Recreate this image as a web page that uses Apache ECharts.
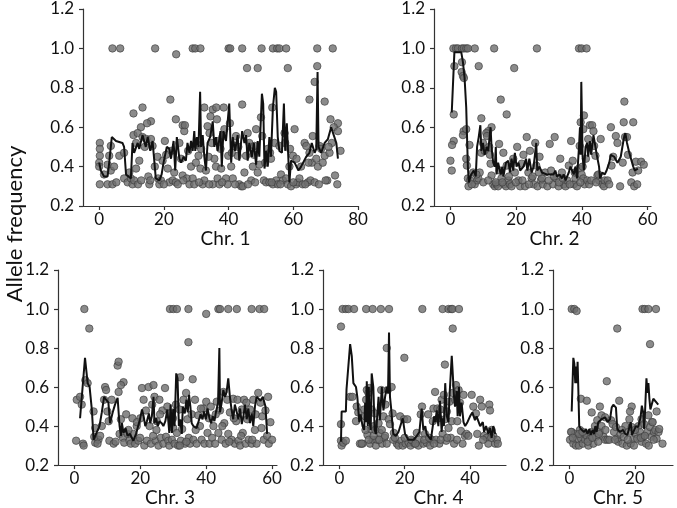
<!DOCTYPE html>
<html><head><meta charset="utf-8">
<script src="https://cdn.jsdelivr.net/npm/echarts@6/dist/echarts.min.js"></script>
<style>html,body{margin:0;padding:0;background:#fff}#c{width:677px;height:508px}</style>
</head><body><div id="c"></div>
<script>
// ---------- DATA ----------
const chrNames = ['Chr. 1','Chr. 2','Chr. 3','Chr. 4','Chr. 5'];
const xMaxes = [80, 61, 61.5, 51, 31.6];
const xTicks = [[0,20,40,60,80],[0,20,40,60],[0,20,40,60],[0,20,40],[0,20]];
const yTicks = [0.2,0.4,0.6,0.8,1.0,1.2];
const yLabel = 'Allele frequency';

const chr1Points = [[4.1,1],[6.5,1],[17.3,1],[28.9,1],[29.7,1],[31.3,1],[40.0,1],[40.5,1],[44.2,1],[50.2,1],[53.7,1],[55.0,1],[55.7,1],[57.8,1],[67.4,1],[72.2,1],
[23.8,0.97],[45.7,0.9],[49.0,0.9],[58.3,0.9],[67.4,0.91],[66.6,0.83],[22.0,0.74],[65.0,0.74],[69.7,0.73],[44.2,0.715],[13.4,0.70],[32.5,0.70],[35.1,0.69],[36.2,0.70],[38.5,0.70],[53.5,0.70],[10.6,0.67],[23.7,0.64],[71.5,0.64],[16.0,0.63],[14.8,0.62],[73.8,0.62],[12.9,0.60],[25.8,0.61],
[0.2,0.52],[0.2,0.49],[0.2,0.455],[0,0.42],[0,0.40],[0.2,0.31],[1.5,0.36],[2.6,0.31],[3.6,0.38],[4.1,0.31],[2.6,0.41],[3.1,0.455],[3.6,0.505],[4.6,0.40],[6.2,0.455],[7.7,0.47],
[7.7,0.34],[8.8,0.32],[9.3,0.37],[9.8,0.34],[10.3,0.31],[10.8,0.33],[11.4,0.39],[10.6,0.56],[11.4,0.52],[12.4,0.43],[11.9,0.57],
[13.4,0.55],[14.1,0.50],[14.6,0.54],[15.2,0.35],[15.5,0.31],[15.8,0.33],[16.5,0.505],[16.0,0.54],[17.2,0.40],[18.2,0.34],[18.6,0.31],[19.1,0.33],[19.6,0.43],[20.3,0.53],[20.7,0.46],[21.2,0.39],[21.7,0.32],[22.7,0.33],[23.2,0.37],[23.7,0.32],[24.3,0.31],[24.8,0.52],[25.3,0.44],[25.8,0.355],[26.3,0.58],[26.5,0.61],[27.1,0.34],[27.9,0.31],[28.4,0.40],[28.9,0.34],[29.4,0.31],[29.9,0.42],[30.4,0.51],[30.7,0.455],[31.3,0.39],[31.5,0.49],
[32.0,0.31],[32.5,0.33],[33.0,0.38],[33.5,0.605],[34.1,0.57],[34.4,0.655],[34.8,0.52],[35.1,0.31],[35.6,0.44],[36.1,0.40],[36.4,0.64],[36.6,0.34],[37.2,0.31],[37.5,0.49],[37.7,0.39],[38.2,0.555],[38.7,0.59],[39.2,0.34],[39.7,0.31],[39.9,0.455],[40.4,0.62],[40.8,0.40],[41.3,0.34],[41.8,0.505],[42.3,0.555],[42.8,0.455],[43.3,0.31],[43.9,0.30],[44.4,0.30],
[44.9,0.37],[45.4,0.455],[45.9,0.57],[46.4,0.52],[47.0,0.33],[47.5,0.40],[48.0,0.505],[48.5,0.59],[49.0,0.37],[49.5,0.41],[50.0,0.65],[50.4,0.555],[50.9,0.33],[51.3,0.42],[51.6,0.32],[52.1,0.49],[52.6,0.32],[53.1,0.44],[53.7,0.31],[54.2,0.52],[54.7,0.33],[55.2,0.31],[55.7,0.505],[56.2,0.36],[56.8,0.33],[57.3,0.57],[57.5,0.52],[57.8,0.34],[58.3,0.31],[58.8,0.40],[59.3,0.30],[59.9,0.455],[60.4,0.59],[60.9,0.31],[61.4,0.32],[61.9,0.34],[62.4,0.40],[62.9,0.31],
[63.5,0.52],[64.0,0.505],[64.5,0.32],[65.0,0.47],[65.3,0.33],[65.7,0.42],[66.0,0.555],[66.6,0.32],[67.1,0.44],[67.6,0.40],[68.1,0.505],[68.6,0.49],[69.1,0.42],[69.7,0.455],[70.5,0.33],[71.2,0.47],[71.9,0.52],[72.5,0.60],[72.9,0.355],[73.6,0.31],[73.8,0.58],[74.6,0.48],
[5.3,0.32],[12.0,0.31],[13.0,0.33],[20.0,0.31],[26.0,0.33],[30.9,0.32],[34.0,0.31],[38.0,0.32],[42.0,0.31],[46.0,0.31],[48.2,0.32],[53.3,0.32],[56.0,0.31],[60.0,0.32],[63.7,0.31],[67.9,0.31],[70.0,0.33],[18.0,0.45],[22.3,0.48],[27.5,0.48],[33.8,0.45],[36.9,0.53],[41.0,0.47],[43.0,0.50],[47.8,0.46],[52.8,0.47],[59.0,0.49],[61.0,0.44],[64.7,0.42],[70.9,0.50]];

const chr1Line = [[0,0.42],[0.5,0.38],[1.5,0.35],[2.6,0.35],[3.1,0.42],[3.9,0.55],[5.2,0.53],[7.2,0.52],[7.7,0.50],[8.3,0.36],[8.8,0.35],[9.8,0.34],[10.3,0.52],[10.8,0.47],[11.9,0.52],[12.4,0.49],[13.4,0.56],[13.9,0.57],[14.4,0.50],[15.0,0.55],[15.8,0.48],[16.5,0.53],[17.5,0.34],[18.6,0.33],[19.3,0.36],[19.9,0.42],[20.9,0.50],[21.7,0.49],[22.2,0.44],[23.0,0.53],[23.5,0.38],[24.0,0.55],[24.8,0.44],[25.3,0.42],[26.1,0.45],[26.8,0.43],[27.3,0.52],[27.9,0.47],[28.4,0.53],[28.9,0.48],[29.4,0.58],[29.7,0.48],[30.2,0.55],[30.7,0.50],[31.2,0.78],[31.5,0.50],[32.0,0.56],[32.5,0.45],[33.0,0.38],[33.5,0.52],[34.3,0.55],[35.1,0.63],[35.6,0.50],[36.1,0.55],[36.6,0.48],[37.5,0.58],[37.9,0.40],[38.4,0.58],[39.2,0.53],[40.2,0.72],[40.8,0.42],[41.3,0.55],[42.0,0.48],[42.8,0.56],[43.3,0.43],[44.2,0.58],[44.9,0.52],[45.4,0.56],[45.9,0.43],[46.4,0.52],[47.2,0.45],[47.8,0.52],[48.5,0.41],[49.0,0.53],[49.5,0.45],[50.3,0.77],[50.7,0.72],[51.1,0.39],[51.6,0.48],[52.1,0.40],[52.6,0.55],[53.1,0.45],[53.7,0.70],[54.3,0.80],[54.7,0.78],[55.2,0.55],[55.7,0.48],[56.5,0.47],[57.1,0.72],[57.5,0.48],[58.0,0.62],[58.8,0.32],[59.3,0.43],[60.4,0.42],[61.6,0.38],[62.4,0.40],[64.0,0.45],[65.0,0.47],[65.7,0.52],[66.6,0.47],[67.1,0.49],[67.5,0.88],[67.8,0.50],[68.6,0.47],[69.7,0.52],[70.7,0.54],[71.7,0.60],[72.5,0.56],[73.3,0.52],[73.8,0.44]];

const chr2Points = [[0.9,1],[1.7,1],[2.3,1],[3.5,1],[4.1,1],[4.8,1],[5.3,1],[7.4,1],[13.3,1],[26.3,1],[39.1,1],[39.9,1],[41.4,1],
[1.2,0.91],[8.6,0.91],[19.4,0.90],[3.4,0.88],[3.8,0.86],[4.1,0.85],[3.5,0.93],[15.3,0.74],[17.1,0.665],[1.0,0.665],[52.9,0.73],[9.4,0.645],[40.6,0.66],[39.6,0.625],[40.4,0.59],[4.0,0.58],[3.8,0.56],[4.8,0.59],[12.5,0.60],[11.5,0.58],[1.0,0.53],[0.5,0.51],[0,0.43],[0.4,0.38],
[5.8,0.51],[4.8,0.44],[5.0,0.405],[5.3,0.34],[5.5,0.30],[6.0,0.33],[6.9,0.37],[7.4,0.31],[8.1,0.33],[8.5,0.34],[8.9,0.37],[9.4,0.47],[9.9,0.52],[10.4,0.48],[10.9,0.57],[11.1,0.555],[11.8,0.50],[12.0,0.46],[12.2,0.415],[12.5,0.355],[13.0,0.31],[13.5,0.30],[14.0,0.31],[14.5,0.30],[14.8,0.515],[15.0,0.38],[15.5,0.34],[16.1,0.47],[16.3,0.31],[16.9,0.30],[17.1,0.405],[17.6,0.33],[18.1,0.31],[18.6,0.30],[19.1,0.44],[19.6,0.37],[20.3,0.50],[20.7,0.33],[21.2,0.30],[21.7,0.415],[22.2,0.46],[22.7,0.30],[23.2,0.55],[23.7,0.37],[24.2,0.48],[24.7,0.34],[25.3,0.31],[25.8,0.52],[26.1,0.405],[26.5,0.30],[27.1,0.45],[27.5,0.33],[28.1,0.31],[28.8,0.37],[29.5,0.30],[30.2,0.515],[30.6,0.38],[31.2,0.31],[31.7,0.55],[32.2,0.34],[32.9,0.30],[33.4,0.44],[33.9,0.37],[34.5,0.31],[35.0,0.30],[35.5,0.33],[36.0,0.405],[36.7,0.53],[37.2,0.43],[37.5,0.31],[38.0,0.34],[38.5,0.30],[39.1,0.39],[39.3,0.505],[39.9,0.36],[40.4,0.34],[40.8,0.31],[41.2,0.44],[41.6,0.33],[41.9,0.54],[42.2,0.31],[42.4,0.61],[43.1,0.61],[43.5,0.58],[43.7,0.505],[44.1,0.455],[44.7,0.355],[45.2,0.33],[45.7,0.54],[46.2,0.31],[46.7,0.30],[46.9,0.33],[47.8,0.33],[48.8,0.60],[49.0,0.405],[50.3,0.555],[50.8,0.52],[51.6,0.30],[52.4,0.42],[52.7,0.625],[53.1,0.55],[53.7,0.55],[55.0,0.32],[55.4,0.37],[55.6,0.625],[55.9,0.30],[56.4,0.425],[57.1,0.38],[58.0,0.425],[58.8,0.41],
[6.5,0.31],[7.9,0.36],[10.0,0.32],[11.5,0.33],[13.8,0.32],[15.8,0.32],[17.8,0.35],[19.9,0.32],[21.9,0.33],[23.9,0.31],[25.0,0.35],[27.8,0.34],[29.9,0.33],[31.5,0.35],[33.0,0.32],[34.2,0.34],[36.3,0.31],[37.8,0.37],[39.5,0.32],[40.2,0.40],[42.8,0.33],[44.3,0.32],[48.3,0.31],[49.5,0.45],[54.0,0.46],[56.8,0.31],[45.0,0.36],[26.9,0.37]];

const chr2Line = [[0.4,0.675],[1.2,0.98],[1.7,0.98],[3.3,0.98],[3.8,0.93],[4.3,0.85],[4.8,0.70],[5.3,0.40],[5.6,0.32],[6.3,0.36],[7.1,0.38],[7.7,0.35],[8.1,0.50],[8.6,0.55],[9.1,0.61],[9.4,0.48],[9.9,0.52],[10.4,0.46],[11.1,0.50],[11.5,0.48],[12.2,0.60],[12.5,0.50],[13.0,0.42],[13.5,0.40],[13.8,0.50],[14.0,0.36],[14.5,0.42],[15.0,0.43],[15.3,0.36],[15.8,0.40],[16.1,0.35],[16.9,0.42],[17.6,0.43],[18.1,0.37],[18.6,0.44],[19.1,0.38],[19.6,0.47],[20.1,0.40],[20.7,0.42],[21.2,0.38],[22.2,0.40],[23.0,0.44],[23.4,0.38],[24.0,0.44],[24.7,0.37],[25.3,0.40],[26.1,0.52],[26.4,0.38],[27.1,0.40],[27.8,0.37],[29.3,0.36],[31.4,0.36],[31.9,0.38],[32.4,0.35],[33.2,0.36],[33.9,0.34],[34.5,0.36],[35.0,0.33],[35.5,0.35],[36.0,0.37],[36.5,0.40],[37.0,0.38],[37.5,0.36],[38.0,0.40],[38.5,0.34],[39.1,0.50],[39.4,0.60],[39.6,0.46],[39.8,0.83],[40.2,0.45],[40.6,0.38],[41.1,0.50],[41.6,0.52],[41.9,0.45],[42.4,0.53],[42.8,0.46],[43.5,0.56],[43.9,0.52],[44.5,0.46],[45.2,0.40],[45.5,0.34],[46.2,0.37],[46.9,0.36],[47.5,0.38],[48.3,0.42],[48.8,0.46],[49.3,0.47],[49.8,0.45],[50.8,0.42],[51.8,0.45],[52.7,0.54],[53.2,0.57],[53.7,0.52],[54.4,0.47],[54.9,0.46],[55.6,0.40],[56.1,0.38],[57.0,0.39]];

const chr3Points = [[3.0,1],[29.0,1],[30.0,1],[31.1,1],[34.6,1],[43.7,1],[44.2,1],[46.7,1],[49.3,1],[53.8,1],[56.2,1],[57.6,1],[40.0,0.975],
[4.5,0.90],[34.6,0.83],[35.9,0.64],[13.1,0.71],[13.4,0.73],[32.1,0.65],[3.3,0.635],[4.0,0.62],[14.9,0.625],[14.1,0.61],[13.4,0.575],[0.7,0.535],[1.7,0.55],[2.2,0.51],[0.5,0.325],[2.6,0.31],[2.8,0.30],
[5.8,0.475],[6.3,0.39],[6.0,0.345],[6.3,0.315],[7.3,0.33],[7.8,0.35],[8.3,0.40],[9.0,0.535],[9.3,0.60],[9.6,0.585],[10.0,0.475],[10.4,0.425],[10.6,0.325],[11.3,0.535],[11.9,0.31],[13.7,0.36],[14.1,0.435],[14.7,0.34],[15.1,0.315],[15.7,0.46],[16.1,0.36],[16.7,0.325],[17.1,0.31],[17.6,0.44],[17.9,0.36],[18.4,0.31],[18.9,0.40],[19.4,0.325],[19.9,0.34],[20.5,0.595],[21.0,0.535],[21.2,0.30],[21.7,0.48],[22.0,0.325],[22.5,0.60],[22.8,0.40],[23.2,0.31],[23.6,0.51],[24.0,0.61],[24.3,0.55],[24.6,0.325],[25.0,0.425],[25.5,0.30],[25.8,0.535],[26.2,0.34],[26.7,0.48],[27.0,0.31],[27.5,0.595],[27.8,0.345],[28.2,0.50],[28.5,0.325],[28.8,0.30],[29.2,0.465],[29.6,0.33],[30.0,0.39],[30.4,0.31],[30.8,0.51],[31.1,0.365],[31.5,0.30],[31.9,0.485],[32.3,0.325],[32.7,0.385],[33.1,0.535],[33.6,0.31],[33.9,0.57],[34.3,0.435],[34.7,0.34],[35.1,0.31],[35.6,0.46],[36.1,0.33],[36.6,0.535],[37.1,0.31],[37.6,0.455],[38.1,0.40],[38.6,0.33],[39.1,0.49],[39.5,0.31],[40.0,0.525],[40.4,0.365],[41.0,0.31],[41.4,0.50],[41.8,0.34],[42.2,0.40],[42.7,0.31],[43.2,0.525],[43.7,0.365],[44.2,0.48],[44.7,0.33],[45.2,0.575],[45.5,0.415],[45.9,0.31],[46.4,0.535],[46.7,0.36],[47.2,0.47],[47.7,0.33],[48.2,0.54],[48.7,0.31],[49.1,0.425],[49.5,0.535],[49.8,0.325],[50.3,0.30],[50.8,0.485],[51.1,0.365],[51.5,0.535],[52.0,0.31],[52.5,0.435],[52.9,0.33],[53.3,0.485],[53.8,0.31],[54.3,0.535],[54.8,0.38],[55.3,0.31],[55.8,0.57],
[56.5,0.52],[57.0,0.45],[57.5,0.33],[58.0,0.48],[58.5,0.35],[59.0,0.31],[59.5,0.42],[60.0,0.33],[56.8,0.39],[58.8,0.55],
[12.5,0.32],[16.4,0.38],[20.0,0.44],[23.9,0.35],[26.0,0.46],[29.9,0.44],[32.0,0.30],[34.0,0.32],[36.8,0.38],[38.4,0.49],[40.8,0.44],[42.9,0.46],[44.9,0.40],[47.0,0.32],[48.4,0.44],[50.6,0.35],[52.2,0.52],[54.0,0.33],[55.0,0.46],[19.0,0.42],[7.0,0.31],[24.9,0.38]];

const chr3Line = [[1.7,0.44],[3.2,0.75],[4.0,0.62],[4.6,0.60],[5.3,0.48],[5.8,0.33],[6.3,0.35],[6.8,0.35],[7.6,0.40],[8.3,0.47],[9.0,0.55],[9.6,0.535],[10.3,0.52],[10.8,0.415],[11.6,0.47],[12.3,0.51],[13.1,0.545],[13.7,0.40],[14.1,0.35],[14.4,0.415],[14.9,0.365],[15.5,0.39],[16.1,0.35],[16.9,0.36],[17.4,0.34],[17.9,0.325],[18.7,0.36],[19.2,0.365],[19.9,0.435],[20.5,0.485],[21.0,0.45],[21.5,0.40],[22.0,0.425],[22.6,0.465],[23.0,0.415],[23.5,0.45],[24.0,0.55],[24.3,0.415],[24.8,0.44],[25.3,0.40],[25.8,0.425],[26.5,0.415],[27.0,0.40],[27.6,0.425],[28.2,0.485],[28.8,0.365],[29.2,0.51],[29.6,0.365],[30.0,0.49],[30.4,0.40],[30.9,0.67],[31.3,0.645],[31.7,0.40],[32.1,0.435],[32.6,0.36],[32.9,0.50],[33.5,0.465],[34.0,0.535],[34.4,0.47],[34.8,0.56],[35.2,0.50],[35.6,0.415],[36.1,0.40],[37.1,0.39],[37.7,0.425],[38.3,0.46],[38.9,0.435],[39.3,0.475],[39.9,0.435],[40.4,0.49],[41.0,0.44],[41.5,0.415],[42.0,0.45],[42.5,0.425],[43.0,0.475],[43.6,0.52],[44.0,0.80],[44.2,0.47],[44.7,0.52],[45.2,0.585],[45.7,0.55],[46.2,0.575],[46.7,0.645],[47.2,0.55],[47.7,0.485],[48.2,0.435],[48.7,0.51],[49.3,0.47],[49.8,0.435],[50.3,0.49],[50.8,0.41],[51.3,0.45],[51.8,0.51],[52.3,0.435],[52.8,0.49],[53.3,0.415],[53.8,0.465],[54.3,0.40],[54.8,0.50],[55.3,0.55],[55.8,0.56],[56.5,0.53],[57.2,0.55],[58.0,0.50],[58.5,0.36]];

const chr4Points = [[1.0,1],[2.0,1],[2.8,1],[4.5,1],[8.2,1],[10.2,1],[12.7,1],[15.2,1],[25.4,1],[31.6,1],[33.4,1],[34.2,1],[34.6,1],[36.6,1],
[0.5,0.91],[34.7,0.90],[14.5,0.80],[19.9,0.75],[32.3,0.715],[3.3,0.55],[4.0,0.55],
[0.5,0.41],[0.5,0.325],[0.7,0.30],[1.2,0.315],[2.0,0.325],[5.3,0.50],[5.8,0.47],[5.1,0.425],[6.3,0.31],[7.1,0.31],[7.6,0.485],[7.9,0.45],[8.2,0.535],[8.4,0.585],[8.6,0.355],[8.9,0.57],[9.2,0.595],[9.4,0.31],[9.6,0.385],[9.9,0.485],[10.2,0.33],[10.6,0.40],[10.9,0.465],[11.2,0.30],[11.6,0.33],[12.0,0.415],[12.4,0.365],[12.8,0.585],[13.1,0.31],[13.5,0.45],[13.8,0.34],[14.1,0.51],[14.5,0.31],[14.8,0.585],[15.1,0.435],[15.5,0.41],[16.0,0.60],[16.3,0.465],[16.7,0.365],[17.6,0.31],[18.1,0.30],[18.6,0.45],[19.0,0.325],[19.4,0.30],[19.8,0.435],[20.3,0.31],[20.8,0.435],[21.2,0.315],[21.8,0.30],[22.4,0.325],[23.0,0.31],[23.7,0.365],[24.2,0.30],[24.5,0.33],[24.9,0.46],[25.3,0.50],[25.7,0.31],[26.2,0.36],[26.7,0.315],[27.2,0.46],[27.8,0.30],[28.3,0.33],[28.6,0.425],[28.8,0.49],[29.3,0.575],[29.6,0.33],[30.0,0.49],[30.3,0.44],[30.6,0.31],[30.9,0.485],[31.3,0.535],[31.6,0.36],[32.0,0.56],[32.3,0.435],[32.7,0.325],[32.9,0.475],[33.4,0.39],[33.7,0.525],[34.1,0.34],[34.4,0.425],[34.7,0.57],[35.1,0.31],[35.4,0.535],[35.7,0.61],[36.1,0.425],[36.5,0.585],[36.9,0.52],[37.2,0.375],[37.7,0.31],[38.0,0.56],[38.4,0.35],[38.9,0.36],[40.5,0.56],[41.0,0.50],[41.8,0.465],[42.2,0.36],[42.7,0.30],[43.1,0.535],[43.6,0.50],[44.3,0.35],[45.1,0.34],[45.6,0.31],[45.9,0.51],[46.1,0.48],[46.6,0.38],[47.1,0.35],[47.7,0.31],[48.2,0.33],[48.5,0.31],
[8.0,0.38],[9.0,0.33],[10.5,0.35],[12.2,0.33],[13.0,0.38],[14.0,0.35],[16.5,0.33],[20.0,0.34],[22.0,0.33],[23.3,0.31],[26.0,0.33],[27.5,0.34],[29.0,0.31],[31.0,0.33],[33.0,0.34],[36.0,0.33],[39.5,0.35],[44.0,0.33],[46.5,0.34],[6.8,0.31],[11.0,0.38],[17.0,0.34]];

const chr4Line = [[0.5,0.32],[0.7,0.475],[2.0,0.475],[2.2,0.59],[3.3,0.82],[3.8,0.76],[4.3,0.62],[5.1,0.60],[5.5,0.55],[6.1,0.42],[6.5,0.46],[7.1,0.40],[7.6,0.38],[7.9,0.52],[8.2,0.42],[8.4,0.63],[8.7,0.40],[9.0,0.60],[9.3,0.42],[9.6,0.38],[9.9,0.67],[10.4,0.60],[10.8,0.38],[11.2,0.36],[11.6,0.45],[12.0,0.55],[12.4,0.43],[13.0,0.60],[13.5,0.48],[14.0,0.55],[14.5,0.60],[14.9,0.57],[15.2,0.88],[15.5,0.55],[15.8,0.50],[16.5,0.36],[17.3,0.35],[18.1,0.37],[18.6,0.36],[19.4,0.44],[19.8,0.43],[20.1,0.36],[21.1,0.33],[22.7,0.33],[23.7,0.35],[24.5,0.37],[25.2,0.49],[25.7,0.38],[26.3,0.40],[26.7,0.36],[27.2,0.35],[28.0,0.33],[28.6,0.40],[29.0,0.45],[29.4,0.42],[29.8,0.48],[30.3,0.40],[30.8,0.53],[31.3,0.37],[31.6,0.44],[32.0,0.40],[32.4,0.62],[32.9,0.45],[33.4,0.42],[33.7,0.55],[34.4,0.76],[34.7,0.75],[35.1,0.55],[35.4,0.50],[35.9,0.58],[36.2,0.45],[36.6,0.60],[36.9,0.45],[37.4,0.52],[38.0,0.42],[38.5,0.40],[39.2,0.42],[40.0,0.45],[40.7,0.47],[41.5,0.43],[42.0,0.45],[43.1,0.40],[43.9,0.42],[44.3,0.37],[44.9,0.40],[45.6,0.36],[46.1,0.39],[46.6,0.34],[47.1,0.40],[47.7,0.36]];

const chr5Points = [[0.7,1],[1.5,1],[2.2,0.99],[22.3,1],[23.0,1],[24.1,1],[26.4,1],
[14.6,0.90],[24.6,0.82],[11.4,0.63],[3.5,0.54],[5.3,0.53],[15.2,0.53],[6.8,0.47],[9.3,0.50],[9.8,0.455],[10.9,0.445],[19.0,0.50],[18.5,0.475],[26.6,0.475],[24.1,0.455],[25.2,0.42],[22.0,0.435],
[0.2,0.33],[0.7,0.37],[1.2,0.31],[1.7,0.36],[2.0,0.30],[2.5,0.335],[2.9,0.30],[3.2,0.38],[3.6,0.335],[4.1,0.31],[4.5,0.36],[4.8,0.33],[5.3,0.35],[5.8,0.30],[6.3,0.335],[6.8,0.37],[7.3,0.31],[7.8,0.40],[8.1,0.345],[8.5,0.43],[8.8,0.32],[9.3,0.37],[9.8,0.40],[10.4,0.345],[10.9,0.33],[11.6,0.33],[12.2,0.33],[12.7,0.43],[13.2,0.41],[13.6,0.37],[14.2,0.395],[14.6,0.335],[14.9,0.32],[15.6,0.36],[16.2,0.31],[16.6,0.345],[17.1,0.40],[17.5,0.30],[18.0,0.37],[18.3,0.435],[18.7,0.31],[19.0,0.395],[19.5,0.335],[19.7,0.30],[20.2,0.36],[20.7,0.335],[21.1,0.40],[21.5,0.37],[22.0,0.32],[22.5,0.345],[22.8,0.41],[23.4,0.31],[23.8,0.37],[24.2,0.30],[24.6,0.395],[25.0,0.345],[25.4,0.42],[25.8,0.37],[26.2,0.38],[26.6,0.335],[27.2,0.37],[27.4,0.385],[28.4,0.31],
[0.5,0.37],[1.0,0.34],[3.0,0.36],[4.0,0.37],[5.6,0.32],[7.0,0.34],[9.0,0.36],[11.0,0.38],[13.9,0.33],[16.0,0.38],[17.8,0.33],[20.0,0.38],[21.8,0.34],[23.0,0.35],[25.7,0.33]];

const chr5Line = [[0.7,0.475],[1.2,0.75],[1.5,0.72],[1.8,0.62],[2.0,0.705],[2.3,0.62],[2.5,0.73],[2.7,0.605],[3.0,0.40],[3.5,0.385],[4.1,0.395],[4.5,0.37],[5.1,0.385],[5.5,0.36],[6.1,0.385],[6.5,0.355],[7.1,0.38],[7.5,0.36],[7.9,0.40],[8.3,0.37],[8.8,0.42],[9.3,0.41],[9.8,0.435],[10.4,0.43],[10.9,0.445],[11.6,0.42],[12.4,0.435],[12.9,0.495],[13.4,0.51],[14.2,0.495],[14.6,0.385],[15.4,0.37],[16.4,0.38],[17.0,0.36],[17.7,0.355],[18.3,0.36],[18.7,0.42],[19.1,0.355],[19.7,0.36],[20.3,0.40],[21.0,0.395],[21.7,0.445],[22.1,0.505],[22.5,0.47],[22.8,0.385],[23.1,0.485],[23.5,0.645],[23.8,0.57],[24.1,0.62],[24.4,0.54],[24.7,0.485],[25.1,0.51],[25.6,0.54],[26.1,0.545],[26.6,0.52],[27.1,0.51]];

// ---------- LAYOUT ----------
const allPoints = [chr1Points, chr2Points, chr3Points, chr4Points, chr5Points];
const allLines = [chr1Line, chr2Line, chr3Line, chr4Line, chr5Line];
const grids = [
  {left:83, top:9, width:275, height:197},
  {left:434, top:9, width:217, height:197},
  {left:58, top:270, width:219, height:198},
  {left:323, top:270, width:183, height:198},
  {left:553, top:270, width:120, height:198}
];
const nameShift = [10, 24, 5, 48, 10];
const FONT = 'Lato, "Open Sans", sans-serif';
const txt = '#111';
const axisCol = '#333';

const option = {
  animation: false,
  backgroundColor: '#fff',
  grid: grids,
  xAxis: grids.map((g,i)=>({
    gridIndex:i, type:'value', min:-5, max:xMaxes[i],
    axisLine:{show:true, onZero:false, lineStyle:{color:axisCol, width:1.2}},
    axisTick:{show:true, inside:false, length:4, customValues:xTicks[i], lineStyle:{color:axisCol, width:1.2}},
    axisLabel:{customValues:xTicks[i], fontSize:17, margin:5, color:txt, fontFamily:FONT},
    splitLine:{show:false},
    name: chrNames[i], nameLocation:'middle', nameGap:20,
    nameTextStyle:{fontSize:19, color:txt, fontFamily:FONT, padding:[0,0,0,nameShift[i]]}
  })),
  yAxis: grids.map((g,i)=>({
    gridIndex:i, type:'value', min:0.2, max:1.2, interval:0.2,
    axisLine:{show:true, onZero:false, lineStyle:{color:axisCol, width:1.2}},
    axisTick:{show:true, inside:false, length:4, lineStyle:{color:axisCol, width:1.2}},
    axisLabel:{fontSize:17, margin:9, color:txt, fontFamily:FONT, formatter:v=>v.toFixed(1)},
    splitLine:{show:false}
  })),
  series: [],
  graphic: [{
    type:'text', x:15, y:224, rotation:Math.PI/2,
    style:{text:yLabel, fontSize:22, fontFamily:FONT, fill:txt, textAlign:'center', textVerticalAlign:'middle'}
  }]
};
for (let i=0;i<5;i++){
  option.series.push({
    type:'scatter', xAxisIndex:i, yAxisIndex:i, data:allPoints[i], symbolSize:7.5, z:2,
    itemStyle:{color:'#6e6e6e', borderColor:'#3a3a3a', borderWidth:0.8}
  });
  option.series.push({
    type:'line', xAxisIndex:i, yAxisIndex:i, data:allLines[i], showSymbol:false, z:3,
    lineStyle:{color:'#111', width:2}
  });
}
const chart = echarts.init(document.getElementById('c'), null, {renderer:'canvas'});
chart.setOption(option);
</script>
</body></html>
